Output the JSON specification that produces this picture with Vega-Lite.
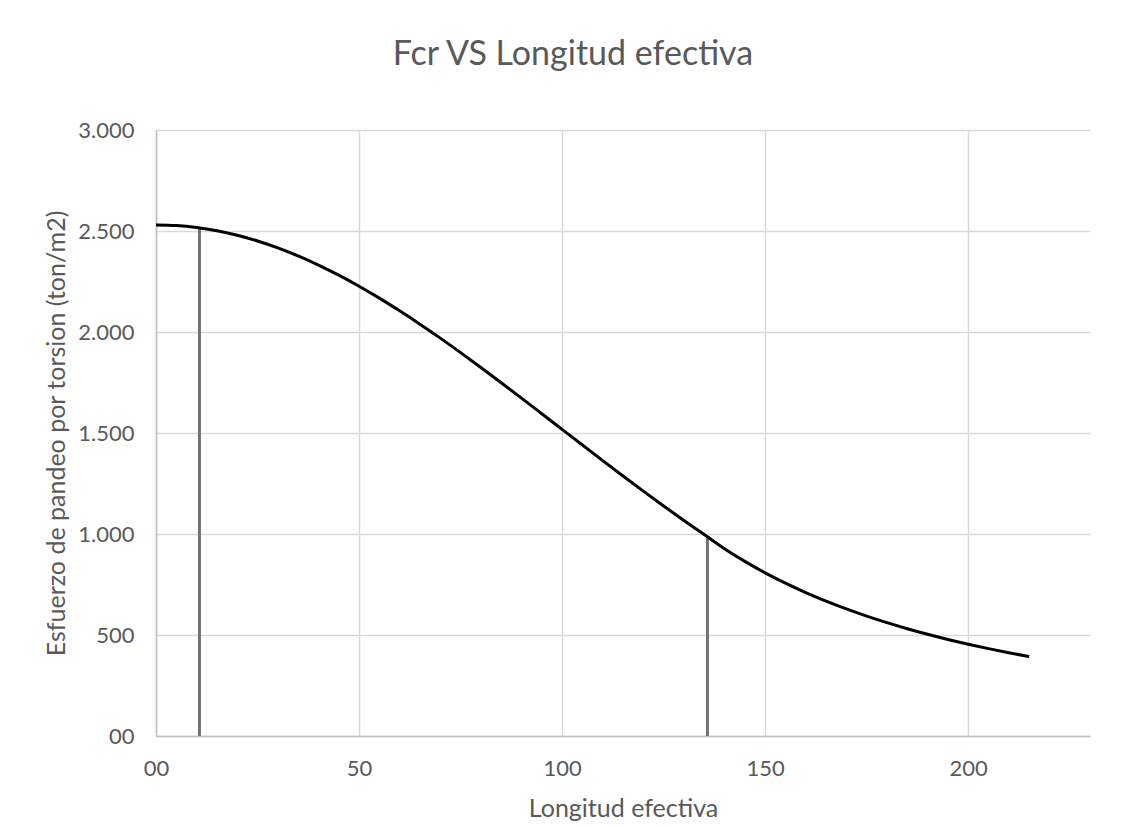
{
  "$schema": "https://vega.github.io/schema/vega-lite/v6.json",
  "width": 934,
  "height": 606,
  "autosize": "none",
  "padding": {"left": 156, "top": 130, "right": 44, "bottom": 91},
  "background": "white",
  "config": {
    "font": "Lato",
    "view": {"stroke": null},
    "axis": {
      "labelFont": "Lato",
      "titleFont": "Lato",
      "labelFontSize": 22,
      "titleFontSize": 25,
      "labelColor": "#595959",
      "titleColor": "#595959",
      "titleFontWeight": "normal",
      "gridColor": "#d9d9d9",
      "gridWidth": 1.5,
      "domainColor": "#bfbfbf",
      "domainWidth": 1.5,
      "ticks": false,
      "labelFlush": false
    }
  },
  "title": {
    "text": "Fcr VS Longitud efectiva",
    "font": "Lato",
    "fontSize": 34,
    "fontWeight": "normal",
    "color": "#595959",
    "anchor": "middle",
    "dx": -50,
    "offset": 47
  },
  "datasets": {
    "curve": [
      {"L": 0, "Fcr": 2530},
      {"L": 5, "Fcr": 2526.8},
      {"L": 10, "Fcr": 2517.1},
      {"L": 15, "Fcr": 2501.1},
      {"L": 20, "Fcr": 2478.8},
      {"L": 25, "Fcr": 2450.5},
      {"L": 30, "Fcr": 2416.3},
      {"L": 35, "Fcr": 2376.5},
      {"L": 40, "Fcr": 2331.4},
      {"L": 45, "Fcr": 2281.3},
      {"L": 50, "Fcr": 2226.6},
      {"L": 55, "Fcr": 2167.7},
      {"L": 60, "Fcr": 2104.9},
      {"L": 65, "Fcr": 2038.8},
      {"L": 70, "Fcr": 1969.7},
      {"L": 75, "Fcr": 1898.0},
      {"L": 80, "Fcr": 1824.4},
      {"L": 85, "Fcr": 1749.0},
      {"L": 90, "Fcr": 1672.6},
      {"L": 95, "Fcr": 1595.4},
      {"L": 100, "Fcr": 1517.9},
      {"L": 105, "Fcr": 1440.4},
      {"L": 110, "Fcr": 1363.5},
      {"L": 115, "Fcr": 1287.3},
      {"L": 120, "Fcr": 1212.3},
      {"L": 125, "Fcr": 1138.8},
      {"L": 130, "Fcr": 1066.9},
      {"L": 135, "Fcr": 997.1},
      {"L": 135.7, "Fcr": 987.3},
      {"L": 140, "Fcr": 927.4},
      {"L": 145, "Fcr": 864.5},
      {"L": 150, "Fcr": 807.9},
      {"L": 155, "Fcr": 756.6},
      {"L": 160, "Fcr": 710.0},
      {"L": 165, "Fcr": 667.7},
      {"L": 170, "Fcr": 629.0},
      {"L": 175, "Fcr": 593.5},
      {"L": 180, "Fcr": 561.0},
      {"L": 185, "Fcr": 531.1},
      {"L": 190, "Fcr": 503.5},
      {"L": 195, "Fcr": 478.0},
      {"L": 200, "Fcr": 454.4},
      {"L": 205, "Fcr": 432.5},
      {"L": 210, "Fcr": 412.2},
      {"L": 215, "Fcr": 393.2}
    ],
    "limits": [
      {"L": 10.7, "Fcr": 2517},
      {"L": 135.8, "Fcr": 987}
    ]
  },
  "layer": [
    {
      "data": {"name": "limits"},
      "mark": {"type": "rule", "color": "#767171", "strokeWidth": 3},
      "encoding": {
        "x": {"field": "L", "type": "quantitative"},
        "y": {"field": "Fcr", "type": "quantitative"},
        "y2": {"datum": 0}
      }
    },
    {
      "data": {"name": "curve"},
      "mark": {"type": "line", "color": "black", "strokeWidth": 3, "interpolate": "monotone"},
      "encoding": {
        "x": {
          "field": "L",
          "type": "quantitative",
          "scale": {"domain": [0, 230], "nice": false},
          "axis": {
            "title": "Longitud efectiva",
            "values": [0, 50, 100, 150, 200],
            "labelExpr": "datum.value == 0 ? '00' : datum.label",
            "labelPadding": 22,
            "titlePadding": 17
          }
        },
        "y": {
          "field": "Fcr",
          "type": "quantitative",
          "scale": {"domain": [0, 3000], "nice": false},
          "axis": {
            "title": "Esfuerzo de pandeo por torsion (ton/m2)",
            "values": [0, 500, 1000, 1500, 2000, 2500, 3000],
            "labelExpr": "datum.value == 0 ? '00' : replace(format(datum.value, ','), ',', '.')",
            "labelPadding": 22,
            "titlePadding": 8
          }
        }
      }
    }
  ]
}
